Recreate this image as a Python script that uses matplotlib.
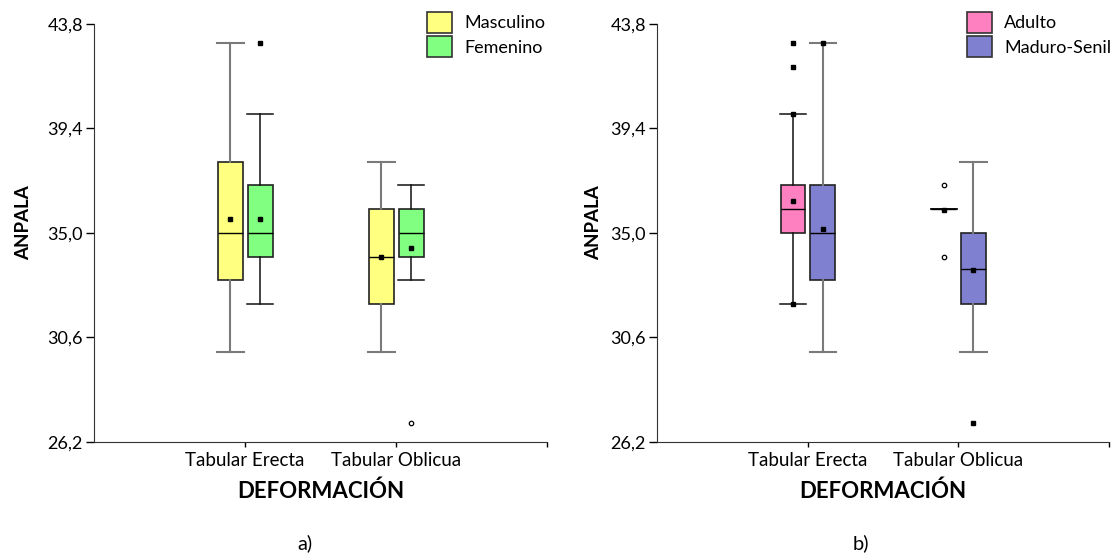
import matplotlib
matplotlib.use("Agg")
import matplotlib.pyplot as plt
from matplotlib.patches import Patch

plt.rcParams['font.family'] = ['Lato', 'DejaVu Sans']

categories = ["Tabular Erecta", "Tabular Oblicua"]
y_ticks = [26.2, 30.6, 35.0, 39.4, 43.8]
y_tick_labels = ["26,2", "30,6", "35,0", "39,4", "43,8"]

# a) by sex, one value per category
masc_lo = [30.0, 30.0]
masc_q1 = [33.0, 32.0]
masc_med = [35.0, 34.0]
masc_q3 = [38.0, 36.0]
masc_hi = [43.0, 38.0]
masc_mean = [35.6, 34.0]
masc_sq = [[], []]
masc_circ = [[], []]

fem_lo = [32.0, 33.0]
fem_q1 = [34.0, 34.0]
fem_med = [35.0, 35.0]
fem_q3 = [37.0, 36.0]
fem_hi = [40.0, 37.0]
fem_mean = [35.6, 34.35]
fem_sq = [[43.0], []]
fem_circ = [[], [27.0]]

# b) by age
adul_lo = [32.0, 36.0]
adul_q1 = [35.0, 36.0]
adul_med = [36.0, 36.0]
adul_q3 = [37.0, 36.0]
adul_hi = [40.0, 36.0]
adul_mean = [36.33, 35.95]
adul_sq = [[43.0, 42.0, 40.0, 32.0], []]
adul_circ = [[], [37.0, 34.0]]

madu_lo = [30.0, 30.0]
madu_q1 = [33.0, 32.0]
madu_med = [35.0, 33.5]
madu_q3 = [37.0, 35.0]
madu_hi = [43.0, 38.0]
madu_mean = [35.15, 33.45]
madu_sq = [[43.0], [27.0]]
madu_circ = [[], []]


def make_series(name, color, wcolor, wlw, lo, q1, med, q3, hi, mean, sq, circ):
    stats = []
    for i in range(len(categories)):
        stats.append(dict(whislo=lo[i], q1=q1[i], med=med[i], q3=q3[i],
                          whishi=hi[i], mean=mean[i], fliers=[]))
    return dict(name=name, color=color, wcolor=wcolor, wlw=wlw,
                stats=stats, sq=sq, circ=circ)


def draw_panel(ax, series, legend_x):
    offsets = [-0.097, 0.1]
    for s, off in zip(series, offsets):
        pos = [i + 1 + off for i in range(len(categories))]
        ax.bxp(s["stats"], positions=pos, widths=0.165, capwidths=0.175,
               patch_artist=True, showmeans=True, showfliers=False,
               manage_ticks=False,
               boxprops=dict(facecolor=s["color"], edgecolor="#222222", linewidth=1.2),
               whiskerprops=dict(color=s["wcolor"], linewidth=s["wlw"]),
               capprops=dict(color=s["wcolor"], linewidth=s["wlw"]),
               medianprops=dict(color="black", linewidth=1),
               meanprops=dict(marker="s", markerfacecolor="black",
                              markeredgecolor="black", markersize=3.5))
        for i, p in enumerate(pos):
            if s["sq"][i]:
                ax.plot([p] * len(s["sq"][i]), s["sq"][i], ls="none", marker="s",
                        color="black", markersize=3.5, zorder=5)
            if s["circ"][i]:
                ax.plot([p] * len(s["circ"][i]), s["circ"][i], ls="none", marker="o",
                        markerfacecolor="white", markeredgecolor="black",
                        markersize=3.2, markeredgewidth=0.9, zorder=5)

    ax.set_xlim(0, 3)
    ax.set_ylim(26.2, 43.8)
    ax.set_xticks([1, 2, 3])
    ax.set_xticklabels(categories + [""], fontsize=13.5)
    ax.set_yticks(y_ticks)
    ax.set_yticklabels(y_tick_labels, fontsize=13)
    ax.tick_params(axis="y", length=6, width=1, pad=2)
    ax.tick_params(axis="x", length=3.5, width=1, pad=4)
    for side in ["top", "right"]:
        ax.spines[side].set_visible(False)
    for side in ["left", "bottom"]:
        ax.spines[side].set_color("#333333")
    ax.set_ylabel("ANPALA", fontsize=13.5, fontweight="bold")
    ax.set_xlabel("DEFORMACIÓN", fontsize=16, fontweight="bold")
    ax.xaxis.set_label_coords(0.5, -0.093)

    handles = [Patch(facecolor=s["color"], edgecolor="#333333", linewidth=1.2, label=s["name"])
               for s in series]
    ax.legend(handles=handles, loc="upper left", bbox_to_anchor=(legend_x, 1 - 12 / 558),
              bbox_transform=fig.transFigure, frameon=False, fontsize=13,
              borderpad=0, borderaxespad=0, handlelength=1.4, handleheight=1.4,
              handletextpad=0.65, labelspacing=0.2)


fig = plt.figure(figsize=(11.13, 5.58), dpi=100)
ax1 = fig.add_axes([94 / 1113, 1 - 442 / 558, 453 / 1113, 418 / 558])
ax2 = fig.add_axes([657 / 1113, 1 - 442 / 558, 452 / 1113, 418 / 558])

sex = [make_series("Masculino", "#ffff80", "#7a7a7a", 1.5, masc_lo, masc_q1, masc_med,
                   masc_q3, masc_hi, masc_mean, masc_sq, masc_circ),
       make_series("Femenino", "#80ff80", "#111111", 1.1, fem_lo, fem_q1, fem_med,
                   fem_q3, fem_hi, fem_mean, fem_sq, fem_circ)]
age = [make_series("Adulto", "#ff80c0", "#111111", 1.1, adul_lo, adul_q1, adul_med,
                   adul_q3, adul_hi, adul_mean, adul_sq, adul_circ),
       make_series("Maduro-Senil", "#8080d0", "#7a7a7a", 1.5, madu_lo, madu_q1, madu_med,
                   madu_q3, madu_hi, madu_mean, madu_sq, madu_circ)]

draw_panel(ax1, sex, 427 / 1113)
draw_panel(ax2, age, 967 / 1113)
ax1.yaxis.set_label_coords(-0.137, 0.524)
ax2.yaxis.set_label_coords(-0.122, 0.524)

fig.text(305 / 1113, 1 - 543 / 558, "a)", ha="center", va="center", fontsize=14.5)
fig.text(861 / 1113, 1 - 543 / 558, "b)", ha="center", va="center", fontsize=14.5)

fig.savefig("out.png", dpi=100)
